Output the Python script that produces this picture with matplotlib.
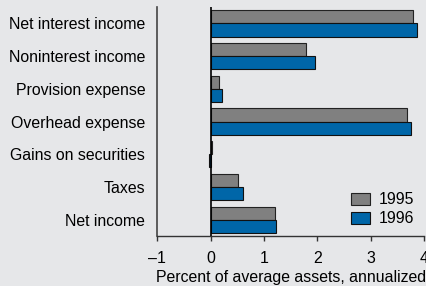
import numpy as np
import matplotlib
matplotlib.use("Agg")
import matplotlib.pyplot as plt

plt.rcParams.update({
    "font.family": ["Liberation Sans", "DejaVu Sans"],
    "font.size": 11.4,
})

# Data (percent of average assets, annualized)
categories = ["Net interest income", "Noninterest income", "Provision expense",
              "Overhead expense", "Gains on securities", "Taxes", "Net income"]
vals_1995 = [3.79, 1.78, 0.16, 3.69, 0.03, 0.52, 1.21]
vals_1996 = [3.87, 1.95, 0.21, 3.75, -0.03, 0.61, 1.23]
series_labels = ["1995", "1996"]
xticks = [-1, 0, 1, 2, 3, 4]
xtick_labels = ["\u20131", "0", "1", "2", "3", "4"]

bg = "#e6e7e9"
c95 = "#808080"
c96 = "#0066a8"

fig = plt.figure(figsize=(4.27, 2.86), dpi=100, facecolor=bg)
ax = fig.add_axes([0.368, 0.175, 0.625, 0.80], facecolor=bg)

y = np.arange(len(categories))
h = 0.4
ax.barh(y - h / 2, vals_1995, height=h, color=c95, edgecolor="#222222",
        linewidth=0.8, label=series_labels[0], zorder=2)
ax.barh(y + h / 2, vals_1996, height=h, color=c96, edgecolor="#111111",
        linewidth=0.8, label=series_labels[1], zorder=2)

ax.axvline(0, color="black", lw=1.2, zorder=3)

ax.set_xlim(-1, 4)
ax.set_ylim(6.5, -0.5)
ax.set_yticks(y)
ax.set_yticklabels(categories)
ax.tick_params(axis="y", length=0, pad=8.5)
ax.set_xticks(xticks)
ax.set_xticklabels(xtick_labels)
ax.tick_params(axis="x", direction="out", length=3.5, width=1, color="#333333", pad=7)

for s in ["top", "right"]:
    ax.spines[s].set_visible(False)
ax.spines["left"].set_color("#444444")
ax.spines["bottom"].set_color("#333333")
ax.spines["left"].set_linewidth(1.2)
ax.spines["bottom"].set_linewidth(1)

ax.set_xlabel("Percent of average assets, annualized", labelpad=3)

ax.legend(loc="lower right", bbox_to_anchor=(1.0, 0.0), frameon=False,
          handlelength=1.2, handleheight=0.8, handletextpad=0.55,
          labelspacing=0.25, borderaxespad=0.2)

fig.savefig("out.png", dpi=100, facecolor=bg)
